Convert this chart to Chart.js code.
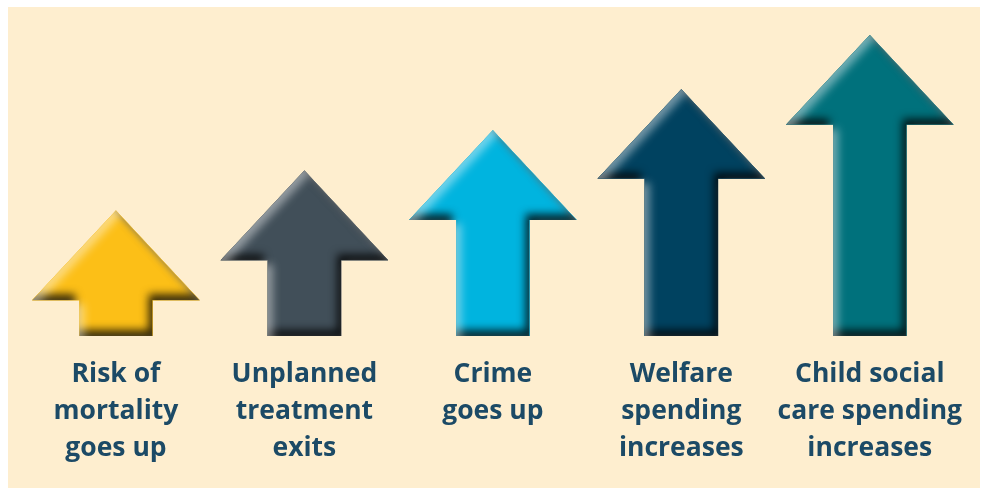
<!DOCTYPE html>
<html>
<head>
<meta charset="utf-8">
<script src="https://cdn.jsdelivr.net/npm/chart.js@4.4.1/dist/chart.umd.min.js"></script>
<style>
  html, body { margin: 0; padding: 0; background: #ffffff; }
  #wrap { width: 984px; height: 491px; }
</style>
</head>
<body>
<div id="wrap"><canvas id="arrowChart" width="984" height="491"></canvas></div>
<script>
// Categories (multi-line labels)
const labels = [
  ['Risk of', 'mortality', 'goes up'],
  ['Unplanned', 'treatment', 'exits'],
  ['Crime', 'goes up'],
  ['Welfare', 'spending', 'increases'],
  ['Child social', 'care spending', 'increases']
];

// Arrow heights (relative size of each impact)
const heights = [125, 165, 205, 246, 300];

// Arrow colours
const arrowColors = ['#fcbf17', '#414f59', '#00b4df', '#004260', '#00717c'];

const creamBg = '#feeecf';
const labelColor = '#1c4a66';

// Builds the arrow outline from a bar element's geometry
function arrowPath(ctx, x, tip, base, w) {
  const hw = w * 1.14;  // half head width
  const hh = w * 1.22;  // head height
  const sw = w / 2;
  ctx.moveTo(x, tip);
  ctx.lineTo(x + hw, tip + hh);
  ctx.lineTo(x + sw, tip + hh);
  ctx.lineTo(x + sw, base);
  ctx.lineTo(x - sw, base);
  ctx.lineTo(x - sw, tip + hh);
  ctx.lineTo(x - hw, tip + hh);
  ctx.closePath();
}

// inner shadow trick: shadow of everything outside the arrow, clipped to the arrow
function innerShadow(ctx, geo, fill, color, dx, dy, blur) {
  ctx.save();
  ctx.beginPath();
  arrowPath(ctx, geo.x, geo.y, geo.base, geo.width);
  ctx.clip();
  ctx.beginPath();
  ctx.rect(-3000, -3000, 7000, 7000);
  arrowPath(ctx, geo.x, geo.y, geo.base, geo.width);
  ctx.shadowColor = color;
  ctx.shadowOffsetX = dx;
  ctx.shadowOffsetY = dy;
  ctx.shadowBlur = blur;
  ctx.fillStyle = fill; // same colour so the clipped edge doesn't show a rim
  ctx.fill('evenodd');
  ctx.restore();
}

const panelPlugin = {
  id: 'panel',
  beforeDraw(chart) {
    const c = chart.ctx;
    c.save();
    c.fillStyle = '#ffffff';
    c.fillRect(0, 0, chart.width, chart.height);
    c.fillStyle = creamBg;
    c.fillRect(8, 7, chart.width - 12, chart.height - 10);
    c.restore();
  }
};

const arrowPlugin = {
  id: 'arrows',
  beforeDatasetDraw(chart, args) {
    const c = chart.ctx;
    args.meta.data.forEach((bar) => {
      const geo = bar.getProps(['x', 'y', 'base', 'width'], true);
      const col = bar.options.backgroundColor;
      c.save();
      c.beginPath();
      arrowPath(c, geo.x, geo.y, geo.base, geo.width);
      c.fillStyle = col;
      c.fill();
      c.restore();
      innerShadow(c, geo, col, 'rgba(0,0,0,0.8)', -4, -6, 9);
      innerShadow(c, geo, col, 'rgba(255,255,255,0.45)', 5, 4, 8);
    });
    return false; // skip the default rectangles
  }
};

const ctx = document.getElementById('arrowChart').getContext('2d');
const arrowChart = new Chart(ctx, {
  type: 'bar',
  data: {
    labels: labels,
    datasets: [{
      data: heights,
      backgroundColor: arrowColors,
      barPercentage: 0.39,
      categoryPercentage: 1.0
    }]
  },
  options: {
    responsive: false,
    animation: false,
    layout: {
      padding: { left: 21.7, right: 19.8, top: 35, bottom: 4 }
    },
    plugins: {
      legend: { display: false },
      tooltip: { enabled: false }
    },
    scales: {
      x: {
        grid: { display: false, drawTicks: false },
        border: { display: false },
        ticks: {
          padding: 20,
          color: labelColor,
          maxRotation: 0,
          autoSkip: false,
          font: { family: 'Open Sans', weight: 'bold', size: 26.5, lineHeight: 1.396 }
        }
      },
      y: {
        display: false,
        min: 0,
        max: 300
      }
    }
  },
  plugins: [panelPlugin, arrowPlugin]
});
</script>
</body>
</html>
